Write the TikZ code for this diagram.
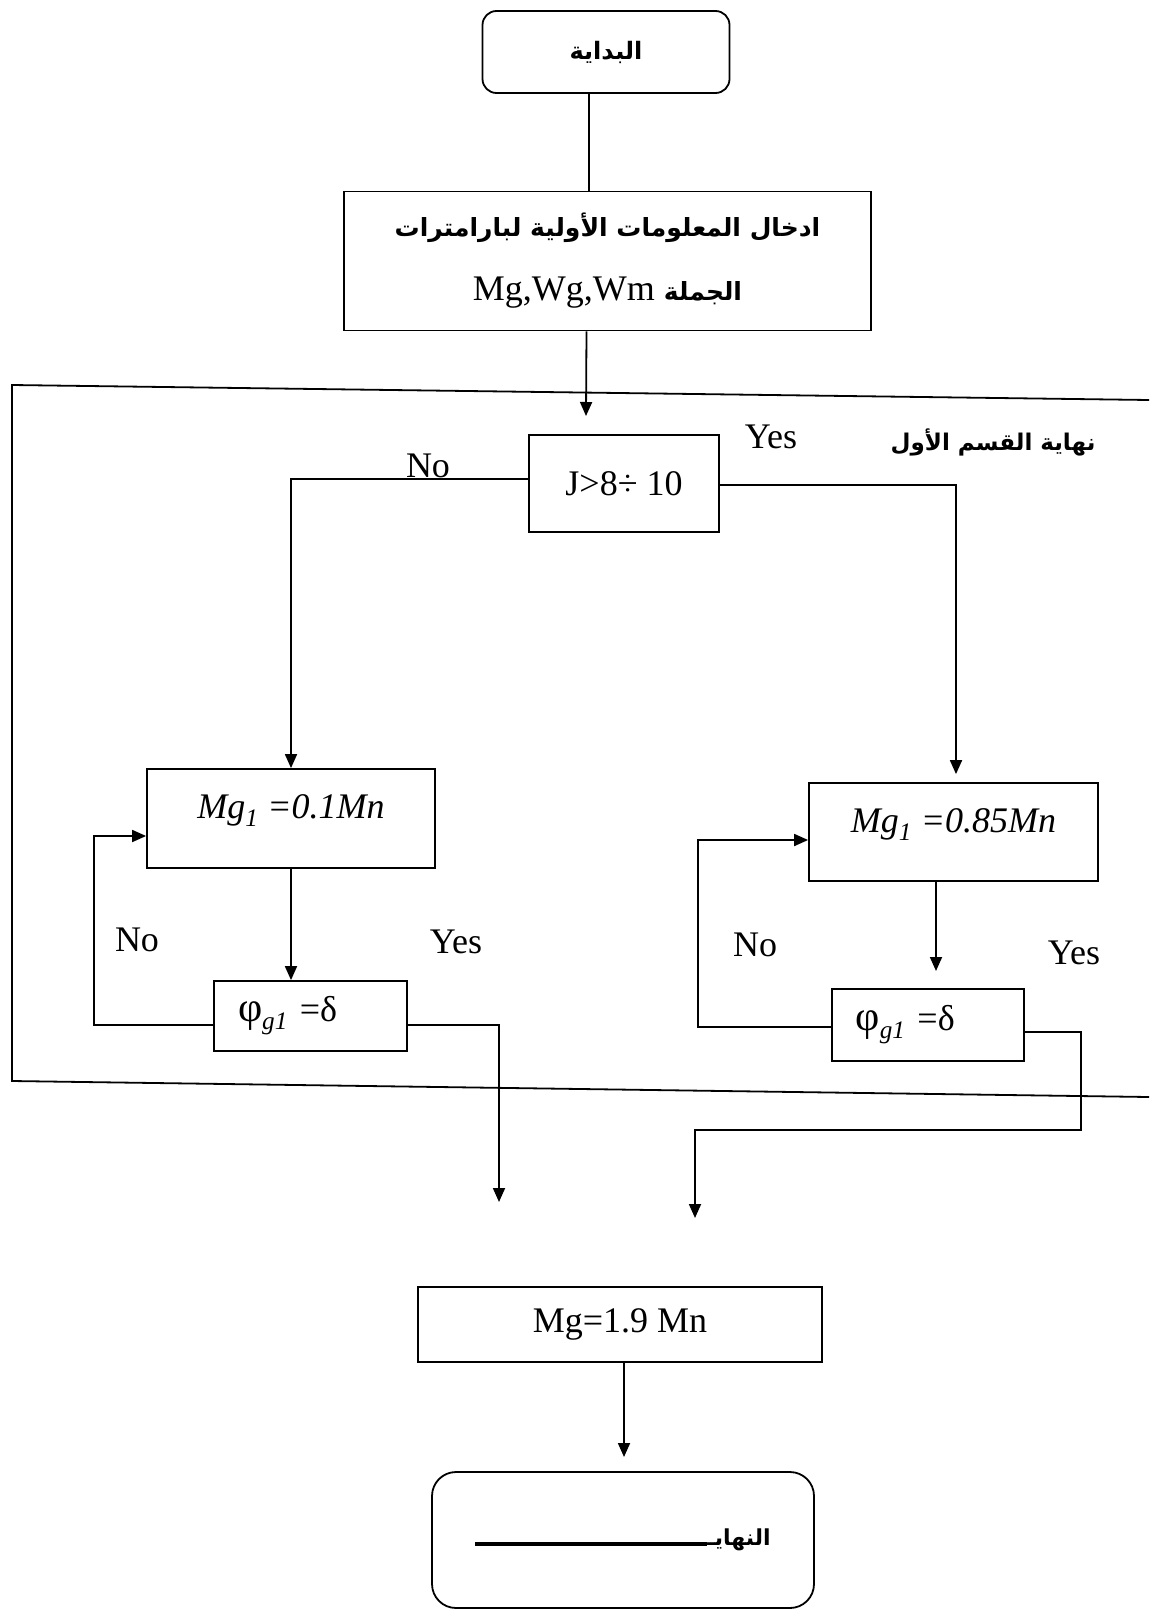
\documentclass[tikz,border=0pt]{standalone}
\usepackage{fontspec}
\setmainfont{Liberation Serif}
\newfontfamily\arabicfont[Script=Arabic]{DejaVu Sans}
\TeXXeTstate=1
\usetikzlibrary{arrows.meta}
\begin{document}
\begin{tikzpicture}[x=1pt,y=-1pt,
  line/.style={line width=1.8pt, black},
  arr/.style={line, -{Triangle[length=14pt,width=12pt]}},
  box/.style={draw, line width=1.8pt, inner sep=0pt, font=\fontsize{36}{43}\selectfont},
  rbox/.style={box, rounded corners=14pt},
  lbl/.style={font=\fontsize{36}{43}\selectfont, inner sep=0pt},
  ar/.style={font=\fontsize{23}{40}\selectfont\arabicfont\bfseries, inner sep=0pt},
]
\useasboundingbox (0,0) rectangle (1149,1611);
\fill[white] (0,0) rectangle (1149,1611);

% frame
\draw[line] (1149,400) -- (12,385) -- (12,1081) -- (1149,1097);

\node[rbox, minimum width=247pt, minimum height=82pt] (start) at (606,52) {\arabicfont\bfseries\fontsize{24}{30}\selectfont\beginR البداية\endR};
\node[box, minimum width=527pt, minimum height=139pt, align=center] (input) at (607.5,261)
  {{\arabicfont\bfseries\fontsize{25}{30}\selectfont\beginR ادخال المعلومات الأولية لبارامترات\endR}\\[21pt]
   Mg,Wg,Wm {\arabicfont\bfseries\fontsize{25}{30}\selectfont\beginR الجملة\endR}};
\node[box, minimum width=190pt, minimum height=97pt] (J) at (624,483.5) {J>8÷ 10};
\node[box, minimum width=288pt, minimum height=99pt, text height=26pt, text depth=26pt] (lmg) at (291,818.5) {\itshape Mg\textsubscript{1} =0.1Mn};
\node[box, minimum width=289pt, minimum height=98pt, text height=26pt, text depth=26pt] (rmg) at (953.5,832) {\itshape Mg\textsubscript{1} =0.85Mn};
\node[box, minimum width=193pt, minimum height=70pt, text width=145pt, align=left, inner xsep=24pt] (lphi) at (310.5,1016) {{\fontsize{42}{43}\selectfont φ}\textsubscript{\itshape g1} =δ};
\node[box, minimum width=192pt, minimum height=72pt, text width=145pt, align=left, inner xsep=23pt] (rphi) at (928,1025) {{\fontsize{42}{43}\selectfont φ}\textsubscript{\itshape g1} =δ};
\node[box, minimum width=404pt, minimum height=75pt] (fin) at (620,1324.5) {Mg=1.9 Mn};
\node[rbox, rounded corners=24pt, minimum width=382pt, minimum height=136pt] (finish) at (623,1540)
  {\rule[0pt]{232pt}{3.5pt}{\arabicfont\bfseries\fontsize{22}{30}\selectfont\beginR النهايـ\endR}};

% labels
\node[lbl] (no1) at (428,466) {No};
\node[lbl] (yes1) at (771,437) {Yes};
\node[ar] (part) at (993,442) {\beginR نهاية القسم الأول\endR};
\node[lbl] (no2) at (137,940) {No};
\node[lbl] (yes2) at (456,942) {Yes};
\node[lbl] (no3) at (755,945) {No};
\node[lbl] (yes3) at (1074,953) {Yes};

% connectors
\draw[line] ([xshift=-17pt]start.south) -- ([xshift=-17pt]start.south |- input.north);
\coordinate (jin) at (586,416);
\draw[arr] ([xshift=-21pt]input.south) -- (jin);
\draw[arr] ([yshift=4.5pt]J.west) -| (lmg.north);
\draw[arr, shorten >=8pt] ([yshift=-1.5pt]J.east) -| ([xshift=2.5pt]rmg.north);
\draw[arr] (lmg.south) -- (lmg.south |- lphi.north);
\draw[arr] ([yshift=-9pt]lphi.west) -- ++(-119,0) |- ([yshift=-17.5pt]lmg.west);
\coordinate (lout) at (499,1202);
\draw[arr] ([yshift=-9pt]lphi.east) -| (lout);
\coordinate (rphin) at (936,971);
\draw[arr] ([xshift=-17.5pt]rmg.south) -- (rphin);
\draw[arr] ([yshift=-2pt]rphi.west) -- ++(-133,0) |- ([yshift=-8pt]rmg.west);
\coordinate (rbend) at (1081,1130);
\coordinate (rout) at (695,1218);
\draw[arr] ([yshift=-7pt]rphi.east) -| (rbend) -| (rout);
\coordinate (finin) at (624,1457);
\draw[arr] ([xshift=4pt]fin.south) -- (finin);
\end{tikzpicture}
\end{document}
